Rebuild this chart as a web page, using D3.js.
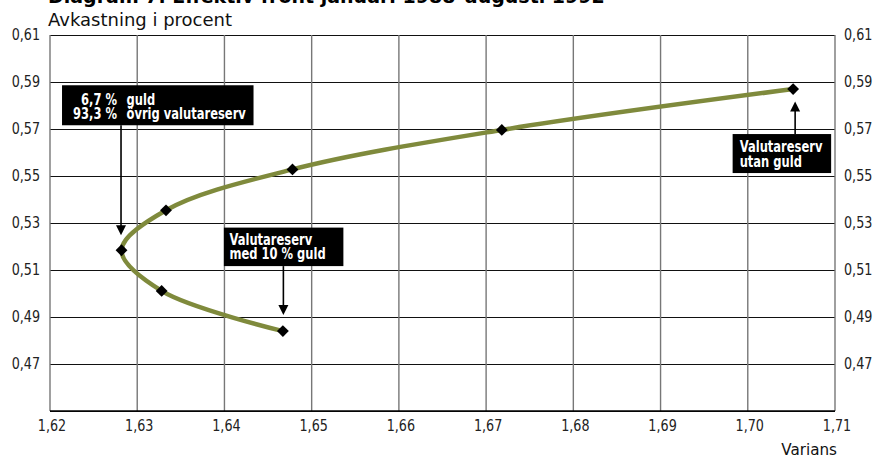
<!DOCTYPE html>
<html><head><meta charset="utf-8">
<script src="https://cdn.jsdelivr.net/npm/d3@7"></script>
<style>
body{margin:0;background:#fff;}
svg{display:block;font-family:"DejaVu Sans",sans-serif;}
</style></head>
<body>
<svg id="chart" width="876" height="458"></svg>
<script>
// ---- data ----
const variance = [1.6467, 1.6328, 1.6282, 1.6333, 1.6478, 1.6718, 1.7052];
const returns  = [0.4840, 0.5011, 0.5184, 0.5354, 0.5528, 0.5696, 0.5870];
const xTicks = [1.62,1.63,1.64,1.65,1.66,1.67,1.68,1.69,1.70,1.71];
const yTicks = [0.47,0.49,0.51,0.53,0.55,0.57,0.59,0.61];
const yGrid  = [0.45,0.47,0.49,0.51,0.53,0.55,0.57,0.59,0.61];
const labels = [
  {idx:2, lines:[["6,7 %","guld"],["93,3 %","övrig valutareserv"]]},
  {idx:0, lines:["Valutareserv","med 10 % guld"]},
  {idx:6, lines:["Valutareserv","utan guld"]}
];
const titleText = "Diagram 7. Effektiv front januari 1988–augusti 1992";
const yTitle = "Avkastning i procent";
const xTitle = "Varians";

// ---- layout ----
const svg = d3.select("#chart");
const L = 50, R = 835, T = 35, B = 411;
const x = d3.scaleLinear().domain([1.62,1.71]).range([L,R]);
const y = d3.scaleLinear().domain([0.45,0.61]).range([B,T]);
const fmt = d => d3.format(".2f")(d).replace(".", ",");

// condensed text helper
function txt(parent, tx, ty, str, o) {
  return parent.append("text")
    .attr("transform", `translate(${tx},${ty}) scale(${o.sx||1},1)`)
    .attr("text-anchor", o.anchor||"start")
    .attr("font-size", o.fs)
    .attr("font-weight", o.bold?"bold":"normal")
    .attr("fill", o.fill||"#111")
    .text(str);
}

// title (cut at top)
txt(svg, 48, 3, titleText, {fs:19, bold:true, fill:"#000"});
txt(svg, 48, 26, yTitle, {fs:18, fill:"#111"});

// gridlines
svg.append("g").selectAll("line").data(yGrid).join("line")
  .attr("x1",L).attr("x2",R).attr("y1",d=>y(d)).attr("y2",d=>y(d))
  .attr("stroke","#111").attr("stroke-width",1).attr("shape-rendering","crispEdges");
svg.append("g").selectAll("line").data(xTicks).join("line")
  .attr("x1",d=>x(d)).attr("x2",d=>x(d)).attr("y1",T).attr("y2",B)
  .attr("stroke","#777").attr("stroke-width",1.4);
svg.append("line").attr("x1",L).attr("x2",R).attr("y1",B).attr("y2",B).attr("stroke","#000").attr("stroke-width",1.5);

// axis labels
const gyl = svg.append("g"), gyr = svg.append("g"), gx = svg.append("g");
yTicks.forEach(d => {
  txt(gyl, 40, y(d)+5, fmt(d), {fs:15, sx:0.85, anchor:"end", fill:"#222"});
  txt(gyr, 844, y(d)+5, fmt(d), {fs:15, sx:0.85, fill:"#222"});
});
xTicks.forEach(d => txt(gx, x(d)+2, 431, fmt(d), {fs:15, sx:0.85, anchor:"middle", fill:"#222"}));
txt(svg, 837, 455, xTitle, {fs:16.5, sx:0.92, anchor:"end", fill:"#111"});

// curve
const pts = variance.map((v,i)=>[v,returns[i]]);
const line = d3.line().x(d=>x(d[0])).y(d=>y(d[1])).curve(d3.curveCatmullRom.alpha(0.5));
svg.append("path").attr("d",line(pts)).attr("fill","none").attr("stroke","#7f8a3c").attr("stroke-width",4.5).attr("stroke-linecap","round");

// markers
svg.append("g").selectAll("path").data(pts).join("path")
  .attr("d",d3.symbol(d3.symbolSquare,70)())
  .attr("transform",d=>`translate(${x(d[0])},${y(d[1])}) rotate(45)`)
  .attr("fill","#000");

// annotations
function arrow(x0,y0,y1){
  const dir = y1>y0?1:-1;
  svg.append("line").attr("x1",x0).attr("x2",x0).attr("y1",y0).attr("y2",y1-dir*9).attr("stroke","#000").attr("stroke-width",1.6);
  svg.append("path").attr("d",`M${x0-5},${y1-dir*10}L${x0+5},${y1-dir*10}L${x0},${y1}Z`).attr("fill","#000");
}
const FS = 16, SX = 0.72;
const white = {fs:FS, sx:SX, bold:true, fill:"#fff"};
// label 1: minimum variance
{
  const p = pts[labels[0].idx], px = x(p[0]), py = y(p[1]);
  const bx = px-59.5, by = py-165;
  svg.append("rect").attr("x",bx).attr("y",by).attr("width",191.5).attr("height",40).attr("fill","#000");
  const g = svg.append("g");
  labels[0].lines.forEach((l,i)=>{
    txt(g, bx+55, by+20+i*14, l[0], {...white, anchor:"end"});
    txt(g, bx+64.5, by+20+i*14, l[1], white);
  });
  arrow(px-0.5, by+40, py-15);
}
// label 2: 10% gold
{
  const p = pts[labels[1].idx], px = x(p[0]), py = y(p[1]);
  const bx = px-59, by = py-103.5;
  svg.append("rect").attr("x",bx).attr("y",by).attr("width",119.5).attr("height",38.5).attr("fill","#000");
  const g = svg.append("g");
  labels[1].lines.forEach((l,i)=>txt(g, bx+5.5, by+17+i*14.7, l, white));
  arrow(px+0.5, by+38.5, py-16);
}
// label 3: without gold
{
  const p = pts[labels[2].idx], px = x(p[0]), py = y(p[1]);
  const bx = px-60.5, by = py+45;
  svg.append("rect").attr("x",bx).attr("y",by).attr("width",98.5).attr("height",39).attr("fill","#000");
  const g = svg.append("g");
  labels[2].lines.forEach((l,i)=>txt(g, bx+7, by+17.7+i*15, l, white));
  arrow(px+2, by, py+12.5);
}
</script>
</body></html>
